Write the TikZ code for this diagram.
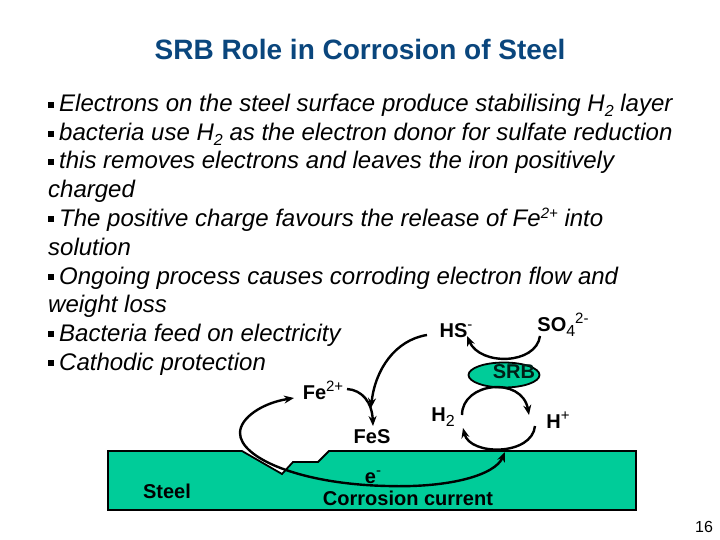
\documentclass[tikz,border=0pt]{standalone}
\usepackage{fontspec}
\setmainfont{Liberation Sans}
\usetikzlibrary{arrows.meta,shapes.geometric}
\definecolor{steelgreen}{RGB}{0,204,153}
\definecolor{titleblue}{RGB}{10,70,125}
\tikzset{
  bodyline/.style={anchor=base west,font=\fontsize{24}{24}\selectfont\itshape,inner sep=0pt},
  chem/.style={font=\fontsize{20}{20}\selectfont\bfseries,inner sep=0pt},
  react/.style={line width=2.4pt,-{Stealth[length=10pt,width=8pt]}},
}
\newcommand{\bul}{\raisebox{4pt}{\rule{6pt}{6pt}}\hspace{5pt}}
\newcommand{\lowt}[1]{\raisebox{-5pt}{\fontsize{16}{16}\selectfont\mdseries #1}}
\newcommand{\upt}[1]{\raisebox{8pt}{\fontsize{15}{15}\selectfont\mdseries #1}}
\begin{document}
\begin{tikzpicture}[x=1pt,y=-1pt]
\useasboundingbox (0,0) rectangle (720,540);
% title
\node[font=\fontsize{28}{28}\selectfont\bfseries,text=titleblue] (title) at (360,49) {SRB Role in Corrosion of Steel};
% text
\node[bodyline] (l1) at (48,112) {\bul Electrons on the steel surface produce stabilising H\lowt{2} layer};
\node[bodyline] (l2) at (48,141) {\bul bacteria use H\lowt{2} as the electron donor for sulfate reduction};
\node[bodyline] (l3) at (48,169) {\bul this removes electrons and leaves the iron positively};
\node[bodyline] (l4) at (48,197) {charged};
\node[bodyline] (l5) at (48,226) {\bul The positive charge favours the release of Fe\upt{2+} into};
\node[bodyline] (l6) at (48,255) {solution};
\node[bodyline] (l7) at (48,284) {\bul Ongoing process causes corroding electron flow and};
\node[bodyline] (l8) at (48,312) {weight loss};
\node[bodyline] (l9) at (48,341) {\bul Bacteria feed on electricity};
\node[bodyline] (l10) at (48,370) {\bul Cathodic protection};
% steel
\draw[line width=1.8pt,fill=steelgreen] (108,451) -- (242,451) -- (282,474) -- (293,462) -- (318,462) -- (329,451) -- (636,451) -- (636,510) -- (108,510) -- cycle;
% SRB
\node[draw,line width=1.8pt,fill=steelgreen,ellipse,minimum width=71pt,minimum height=25pt,inner sep=0pt] (srb) at (504,375) {};
\node[chem,text=black!85!steelgreen] (srblabel) at (514,372) {SRB};
% labels
\node[chem] (hs) at (456,331) {HS\upt{-}};
\node[chem] (so4) at (563,325) {SO\lowt{4}\upt{2-}};
\node[chem] (fe) at (323,390) {Fe\upt{2+}};
\node[chem] (fes) at (372,437) {FeS};
\node[chem] (h2) at (443,417) {H\lowt{2}};
\node[chem] (hp) at (558,420) {H\upt{+}};
\node[chem] (steel) at (167,491) {Steel};
\node[chem] (eminus) at (373,477) {e\upt{-}};
\node[chem] (current) at (408,498) {Corrosion current};
\node[font=\fontsize{16}{16}\selectfont] (page) at (704,527) {16};
% arrows
\coordinate (soend) at (540,336);
\coordinate (hsend) at (467,336);
\draw[react] (soend) .. controls (536,365) and (480,366) .. (hsend);
\coordinate (h2top) at (462,415);
\coordinate (hptop) at (529,415);
\draw[react] (h2top) .. controls (462,382) and (522,376) .. (hptop);
\coordinate (hplow) at (535,426);
\coordinate (h2low) at (463,428);
\draw[react] (hplow) .. controls (532,456) and (470,456) .. (h2low);
\coordinate (hsline) at (427,335);
\coordinate (fesup) at (371,408);
\draw[react] (hsline) .. controls (395,340) and (375,370) .. (fesup);
\coordinate (feline) at (347,389);
\coordinate (fesend) at (373,426);
\draw[react] (feline) .. controls (362,390) and (372,402) .. (fesend);
\coordinate (loopfe) at (294,398);
\coordinate (loopleft) at (240,433);
\coordinate (loopbot) at (387,486);
\coordinate (loopend) at (505,452);
\draw[line width=2.4pt,{Stealth[length=10pt,width=8pt]}-{Stealth[length=10pt,width=8pt]}] (loopfe) .. controls (262,403) and (240,418) .. (loopleft) .. controls (240,458) and (300,484) .. (loopbot) .. controls (450,488) and (495,475) .. (loopend);
\end{tikzpicture}
\end{document}
